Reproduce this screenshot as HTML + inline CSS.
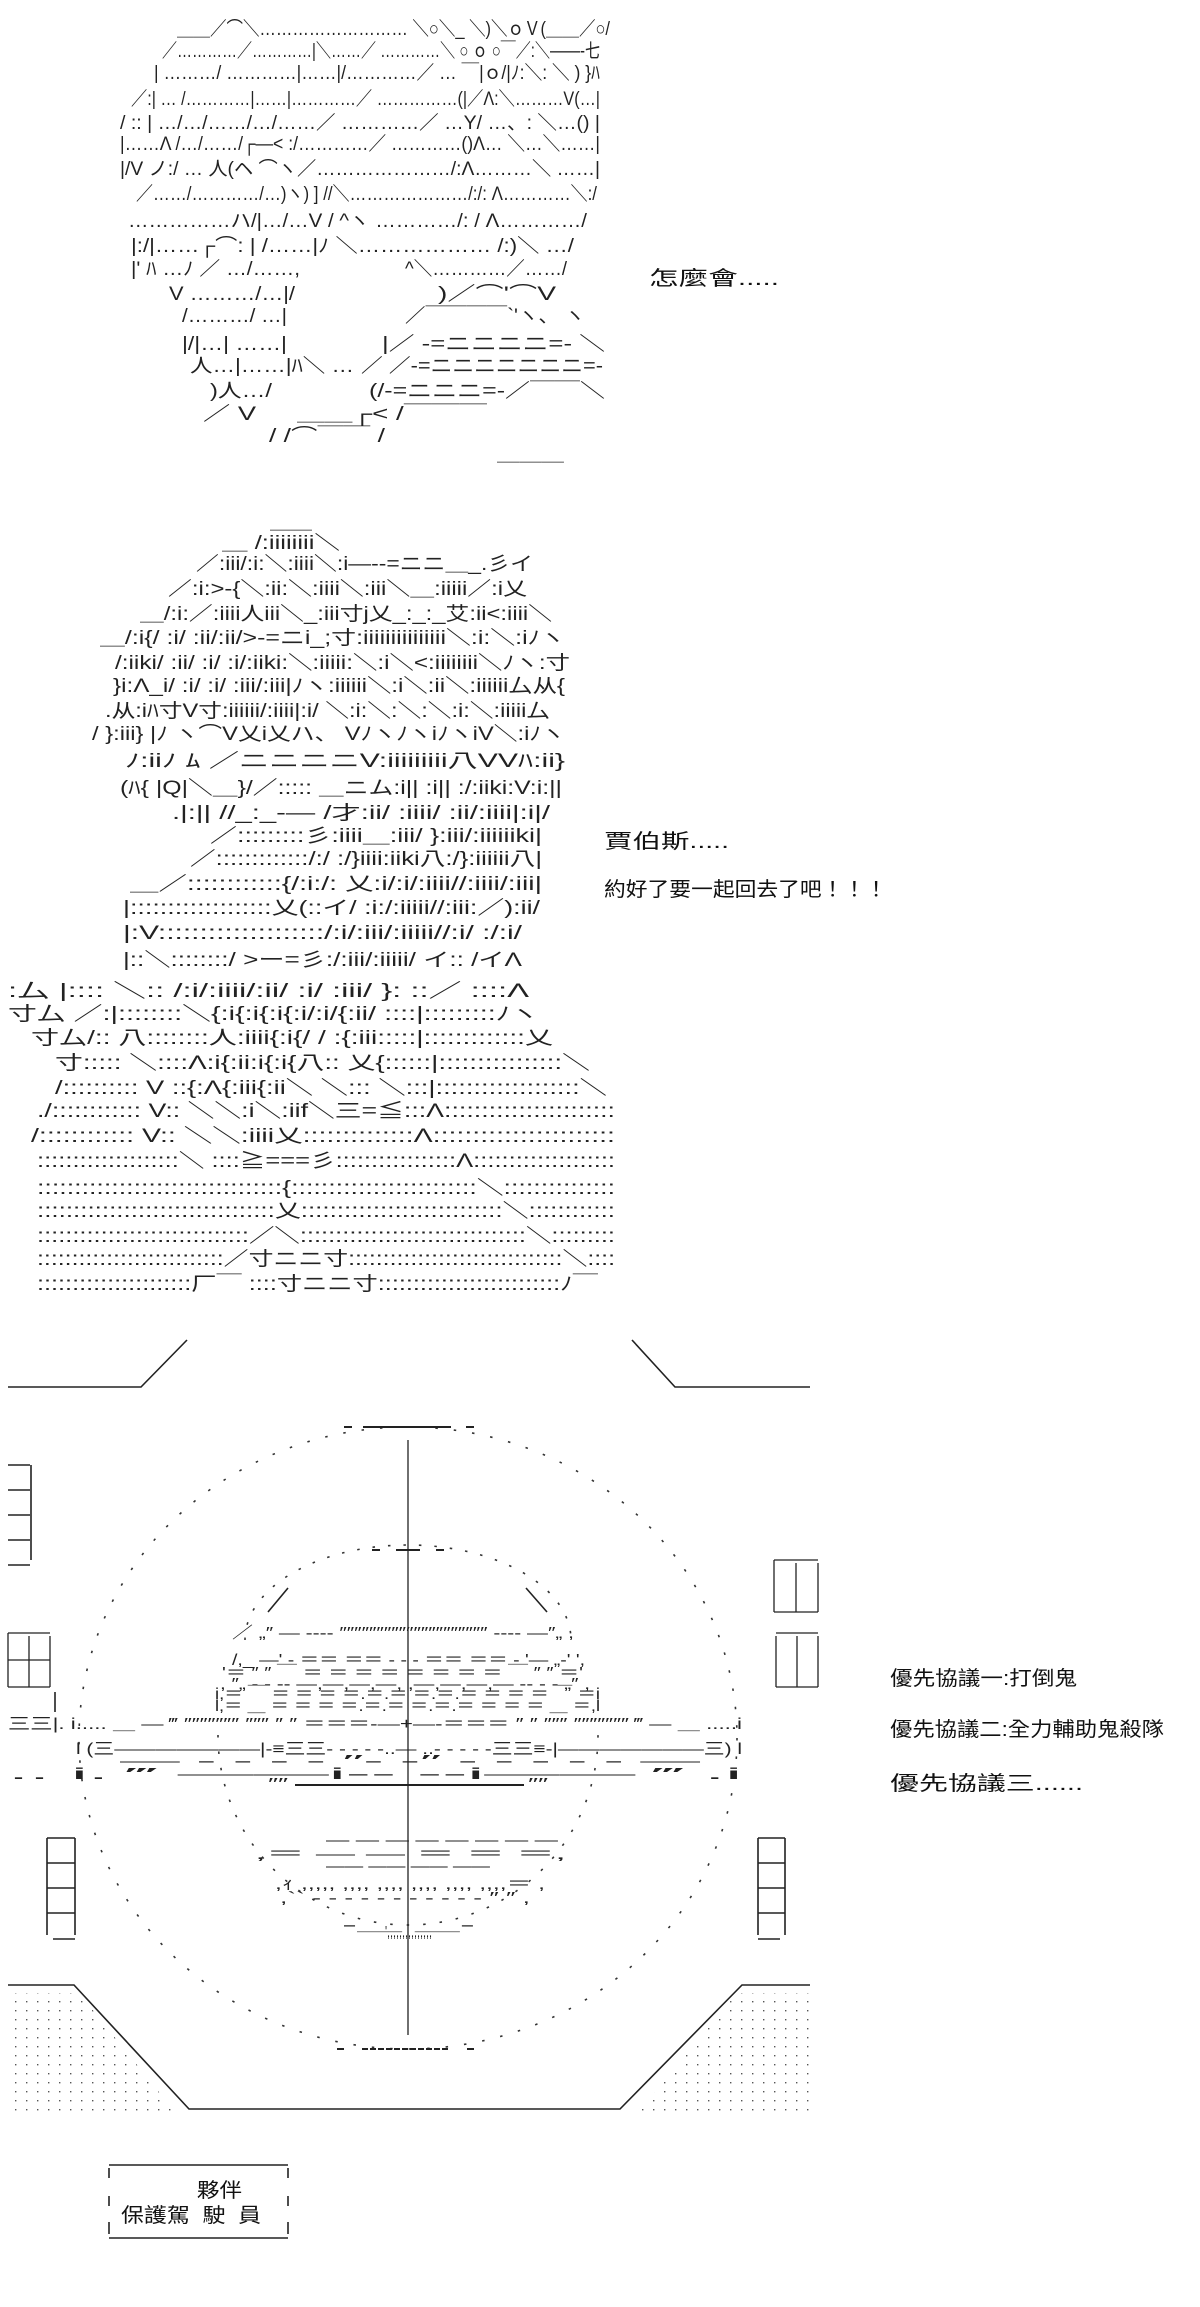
<!DOCTYPE html>
<html><head><meta charset="utf-8"><style>
html,body{margin:0;padding:0;background:#fff;}
svg{display:block}
.a{font-family:"Liberation Sans","Noto Sans CJK JP",sans-serif;font-size:19px;fill:#222;white-space:pre}
.c{font-family:"Liberation Sans","Noto Sans CJK TC",sans-serif;font-size:20px;fill:#111;white-space:pre}
.s{font-family:"Liberation Sans","Noto Sans CJK JP",sans-serif;font-size:16px;fill:#222;white-space:pre}
</style></head><body>
<svg width="1200" height="2307" viewBox="0 0 1200 2307" xmlns="http://www.w3.org/2000/svg">
<defs>
<pattern id="dp" x="0" y="0" width="11" height="9" patternUnits="userSpaceOnUse"><rect x="4" y="3" width="1.4" height="1.4" fill="#555"/></pattern>
</defs>
<g class="a" lengthAdjust="spacingAndGlyphs">
<text x="177" y="35" textLength="433" lengthAdjust="spacingAndGlyphs">＿＿／⌒＼……………………… ＼○＼_ ＼)＼ｏＶ(＿＿／○/</text>
<text x="162" y="57" textLength="438" lengthAdjust="spacingAndGlyphs">／…………／…………|＼……／ …………＼ ○ ｏ ○￣／:＼――-七</text>
<text x="154" y="79" textLength="446" lengthAdjust="spacingAndGlyphs">| ………/ …………|……|/…………／ … ￣|ｏ/|ﾉ:＼: ＼ ) }ﾊ</text>
<text x="131" y="105" textLength="469" lengthAdjust="spacingAndGlyphs">／:| …  /…………|……|…………／ ……………(|／Λ:＼………V(…|</text>
<text x="120" y="129" textLength="480" lengthAdjust="spacingAndGlyphs">/ :: | …/…/……/…/……／ …………／ …Y/ …、: ＼…() |</text>
<text x="120" y="150" textLength="480" lengthAdjust="spacingAndGlyphs">|……Λ /…/……/┌―&lt; :/…………／ …………()Λ… ＼…＼……|</text>
<text x="120" y="175" textLength="480" lengthAdjust="spacingAndGlyphs">|/V ノ:/ … 人(ヘ ⌒ヽ／…………………/:Λ………＼ ……|</text>
<text x="136" y="200" textLength="461" lengthAdjust="spacingAndGlyphs">／……/…………/…)ヽ) ] //＼…………………/:/: Λ…………＼:/</text>
<text x="128" y="227" textLength="459" lengthAdjust="spacingAndGlyphs">……………ハ/|…/…V  /   ^ヽ  …………/: / Λ…………/</text>
<text x="131" y="252" textLength="443" lengthAdjust="spacingAndGlyphs">|:/|……┌⌒: | /……|ﾉ      ＼………………  /:)＼ …/</text>
<text x="131" y="275" textLength="169" lengthAdjust="spacingAndGlyphs">|' ﾊ …ﾉ ／ …/……,</text>
<text x="405" y="275" textLength="162" lengthAdjust="spacingAndGlyphs">^＼…………／……/</text>
<text x="169" y="300" textLength="126" lengthAdjust="spacingAndGlyphs">V ………/…|/</text>
<text x="438" y="300" textLength="118" lengthAdjust="spacingAndGlyphs">)／⌒'⌒V</text>
<text x="182" y="322" textLength="105" lengthAdjust="spacingAndGlyphs">/………/ …|</text>
<text x="405" y="322" textLength="180" lengthAdjust="spacingAndGlyphs">／￣￣￣￣`'ヽ、 ヽ</text>
<text x="182" y="350" textLength="105" lengthAdjust="spacingAndGlyphs">|/|…| ……|</text>
<text x="382" y="350" textLength="223" lengthAdjust="spacingAndGlyphs">|／  -=ニニニニ=-   ＼</text>
<text x="190" y="372" textLength="164" lengthAdjust="spacingAndGlyphs">人…|……|ﾊ＼     …</text>
<text x="361" y="372" textLength="242" lengthAdjust="spacingAndGlyphs">／ ／-=ニニニニニニニ=-</text>
<text x="210" y="397" textLength="62" lengthAdjust="spacingAndGlyphs">)人…/</text>
<text x="369" y="397" textLength="236" lengthAdjust="spacingAndGlyphs">(/-=ニニニ=-／￣￣＼</text>
<text x="203" y="420" textLength="53" lengthAdjust="spacingAndGlyphs">／  V</text>
<text x="297" y="420" textLength="190" lengthAdjust="spacingAndGlyphs">＿＿┌&lt; /￣￣￣</text>
<text x="269" y="442" textLength="116" lengthAdjust="spacingAndGlyphs">/ /⌒￣￣  /</text>
<text x="497" y="460" textLength="67" lengthAdjust="spacingAndGlyphs">＿＿＿</text>

<text x="270" y="528" textLength="42" lengthAdjust="spacingAndGlyphs">＿＿</text>
<text x="222" y="549" textLength="118" lengthAdjust="spacingAndGlyphs">＿ /:iiiiiiii＼</text>
<text x="196" y="570" textLength="337" lengthAdjust="spacingAndGlyphs">／:iii/:i:＼:iiii＼:i―--=ニニ＿_.彡イ</text>
<text x="168" y="595" textLength="359" lengthAdjust="spacingAndGlyphs">／:i:&gt;-{＼:ii:＼:iiii＼:iii＼＿:iiiii／:i乂</text>
<text x="140" y="620" textLength="412" lengthAdjust="spacingAndGlyphs">＿/:i:／:iiii人iii＼_:iii寸j乂_:_:_艾:ii&lt;:iiii＼</text>
<text x="100" y="644" textLength="465" lengthAdjust="spacingAndGlyphs">＿/:i{/ :i/ :ii/:ii/&gt;-=ニi_;寸:iiiiiiiiiiiiiii＼:i:＼:iﾉヽ</text>
<text x="115" y="669" textLength="455" lengthAdjust="spacingAndGlyphs">/:iiki/ :ii/ :i/ :i/:iiki:＼:iiiii:＼:i＼&lt;:iiiiiiii＼ﾉヽ:寸</text>
<text x="113" y="692" textLength="452" lengthAdjust="spacingAndGlyphs">}i:Λ_i/ :i/ :i/ :iii/:iii|ﾉヽ:iiiiii＼:i＼:ii＼:iiiiii厶从{</text>
<text x="105" y="717" textLength="445" lengthAdjust="spacingAndGlyphs">.从:iﾊ寸V寸:iiiiii/:iiii|:i/  ＼:i:＼:＼:＼:i:＼:iiiii厶</text>
<text x="92" y="740" textLength="473" lengthAdjust="spacingAndGlyphs">/   }:iii} |ﾉ    ヽ⌒V乂i乂ハ、     VﾉヽﾉヽiﾉヽiV＼:iﾉヽ</text>
<text x="125" y="767" textLength="440" lengthAdjust="spacingAndGlyphs">ﾉ:iiﾉ  ﾑ          ／ニニニニV:iiiiiiiii八VVﾊ:ii}</text>
<text x="120" y="794" textLength="442" lengthAdjust="spacingAndGlyphs">(ﾊ{  |Q|＼＿}/／::::: ＿ニム:i|| :i|| :/:iiki:V:i:||</text>
<text x="172" y="819" textLength="378" lengthAdjust="spacingAndGlyphs">.|:||      //_:_-― /才:ii/ :iiii/ :ii/:iiii|:i|/</text>
<text x="210" y="842" textLength="332" lengthAdjust="spacingAndGlyphs">／:::::::::彡:iiii＿:iii/ }:iii/:iiiiiiki|</text>
<text x="190" y="865" textLength="352" lengthAdjust="spacingAndGlyphs">／:::::::::::::/:/ :/}iiii:iiki八:/}:iiiiii八|</text>
<text x="130" y="890" textLength="412" lengthAdjust="spacingAndGlyphs">＿／::::::::::::{/:i:/: 乂:i/:i/:iiii//:iiii/:iii|</text>
<text x="123" y="914" textLength="417" lengthAdjust="spacingAndGlyphs">|:::::::::::::::::::乂(::イ/ :i:/:iiiii//:iii:／):ii/</text>
<text x="123" y="939" textLength="399" lengthAdjust="spacingAndGlyphs">|:V::::::::::::::::::::/:i/:iii/:iiiii//:i/ :/:i/</text>
<text x="123" y="966" textLength="399" lengthAdjust="spacingAndGlyphs">|::＼::::::::/ &gt;ー=彡:/:iii/:iiiii/ イ:: /イΛ</text>
<text x="8" y="997" textLength="521" lengthAdjust="spacingAndGlyphs">:厶          |::::  ＼:: /:i/:iiii/:ii/ :i/ :iii/ }: ::／ ::::Λ</text>
<text x="8" y="1020" textLength="531" lengthAdjust="spacingAndGlyphs">寸厶     ／:|::::::::＼{:i{:i{:i{:i/:i/{:ii/ ::::|:::::::::ﾉヽ</text>
<text x="31" y="1044" textLength="522" lengthAdjust="spacingAndGlyphs">寸厶/:: 八::::::::人:iiii{:i{/ / :{:iii:::::|:::::::::::::乂</text>
<text x="55" y="1069" textLength="535" lengthAdjust="spacingAndGlyphs">寸:::::  ＼::::Λ:i{:ii:i{:i{八:: 乂{::::::|::::::::::::::::＼</text>
<text x="55" y="1094" textLength="552" lengthAdjust="spacingAndGlyphs">/:::::::::: V ::{:Λ{:iii{:ii＼ ＼::: ＼:::|:::::::::::::::::::＼</text>
<text x="37" y="1117" textLength="578" lengthAdjust="spacingAndGlyphs">./:::::::::::: V:: ＼＼:i＼:iif＼三=≦:::Λ:::::::::::::::::::::::</text>
<text x="31" y="1142" textLength="584" lengthAdjust="spacingAndGlyphs">/:::::::::::: V:: ＼＼:iiii乂::::::::::::::Λ:::::::::::::::::::::::</text>
<text x="37" y="1167" textLength="578" lengthAdjust="spacingAndGlyphs">::::::::::::::::::::＼ ::::≧===彡:::::::::::::::::Λ::::::::::::::::::::</text>
<text x="37" y="1194" textLength="578" lengthAdjust="spacingAndGlyphs">:::::::::::::::::::::::::::::::::{:::::::::::::::::::::::::＼:::::::::::::::</text>
<text x="37" y="1217" textLength="578" lengthAdjust="spacingAndGlyphs">:::::::::::::::::::::::::::::::::乂::::::::::::::::::::::::::::＼::::::::::::</text>
<text x="37" y="1242" textLength="578" lengthAdjust="spacingAndGlyphs">::::::::::::::::::::::::::::::／＼::::::::::::::::::::::::::::::::＼:::::::::</text>
<text x="37" y="1265" textLength="578" lengthAdjust="spacingAndGlyphs">:::::::::::::::::::::::::::／寸ニニ寸:::::::::::::::::::::::::::::::＼::::</text>
<text x="37" y="1290" textLength="561" lengthAdjust="spacingAndGlyphs">::::::::::::::::::::::厂￣  ::::寸ニニ寸::::::::::::::::::::::::::ﾉ￣</text>
</g>

<text class="c" x="649" y="285" textLength="130" lengthAdjust="spacingAndGlyphs">怎麼會.....</text>
<text class="c" x="604" y="848" textLength="125" lengthAdjust="spacingAndGlyphs">賈伯斯.....</text>
<text class="c" x="604" y="896" textLength="283" lengthAdjust="spacingAndGlyphs">約好了要一起回去了吧！！！</text>
<text class="c" x="890" y="1685" textLength="187" lengthAdjust="spacingAndGlyphs">優先協議一:打倒鬼</text>
<text class="c" x="890" y="1736" textLength="274" lengthAdjust="spacingAndGlyphs">優先協議二:全力輔助鬼殺隊</text>
<text class="c" x="890" y="1790" textLength="193" lengthAdjust="spacingAndGlyphs">優先協議三......</text>

<g stroke="#222" stroke-width="1.6" fill="none">
<polyline points="8,1387 141,1387 187,1340"/>
<polyline points="632,1340 675,1387 810,1387"/>
<polyline points="8,1985 74,1985 189,2109 620,2109 742,1985 810,1985"/>
<ellipse cx="408" cy="1738" rx="329" ry="311" stroke-dasharray="2.5 16" stroke-width="1.6" stroke="#333"/>
<path d="M 245 1640 A 163 95 0 0 1 571 1640" stroke-dasharray="2.5 13" stroke="#333"/>
<path d="M 218 1735 A 190 190 0 0 0 598 1735" stroke-dasharray="2.5 14" stroke="#333"/>
<line x1="268" y1="1612" x2="288" y2="1588"/>
<line x1="526" y1="1588" x2="547" y2="1612"/>
<line x1="408" y1="1440" x2="408" y2="2035" stroke-width="1.3"/>
<line x1="344" y1="1427" x2="352" y2="1427" stroke-width="2"/>
<line x1="363" y1="1427" x2="451" y2="1427" stroke-width="2"/>
<line x1="466" y1="1427" x2="474" y2="1427" stroke-width="2"/>
<line x1="372" y1="1550" x2="380" y2="1550" stroke-width="2"/>
<line x1="396" y1="1550" x2="420" y2="1550" stroke-width="2"/>
<line x1="436" y1="1550" x2="444" y2="1550" stroke-width="2"/>
<line x1="337" y1="2049" x2="344" y2="2049" stroke-width="2"/>
<line x1="362" y1="2049" x2="450" y2="2049" stroke-width="2" stroke-dasharray="6 2"/>
<line x1="467" y1="2049" x2="474" y2="2049" stroke-width="2"/>
<line x1="295" y1="1785" x2="524" y2="1785" stroke-width="2"/>
<path d="M8 1465H30M8 1490H30M8 1515H30M8 1540H30M8 1565H30M31 1465V1560"/>
<path d="M8 1633H50M8 1633V1687M29 1636V1687M50 1636V1687M8 1660H50M8 1687H50" stroke-width="1.3"/>
<path d="M55 1692V1712"/>
<path d="M774 1560H818M774 1560V1612M796 1563V1612M818 1563V1612M774 1612H818" stroke-width="1.3"/>
<path d="M776 1633H818M776 1636V1687M797 1636V1687M818 1636V1687M776 1687H818" stroke-width="1.3"/>
<path d="M47 1838H75M47 1863H75M47 1888H75M47 1913H75M53 1939H75M47 1838V1935M75 1838V1935"/>
<path d="M758 1838H785M758 1863H785M758 1888H785M758 1913H785M758 1939H780M758 1838V1935M785 1838V1935"/>
<path d="M109 2165H288M109 2168V2178M109 2196V2206M109 2222V2234M288 2168V2178M288 2196V2206M288 2222V2234M109 2238H288"/>
</g>

<polygon points="8,1993 79,1993 175,2112 8,2112" fill="url(#dp)"/>
<polygon points="737,1993 810,1993 810,2112 638,2112" fill="url(#dp)"/>

<g class="s">
<text x="232" y="1638" textLength="342" lengthAdjust="spacingAndGlyphs">／ „″ ―  ----  ″″″″″″″″″″″″″″″″″″″″  ----  ―″„  ,</text>
<text x="232" y="1665" textLength="353" lengthAdjust="spacingAndGlyphs">/,_    ―'  -  ＝＝  ＝＝  -  -  -  ＝＝  ＝＝  -  '―   „-'  ',</text>
<text x="222" y="1678" textLength="361" lengthAdjust="spacingAndGlyphs">'＝ ″ ″  ￣   ＝  ＝  ＝  ＝     ＝  ＝  ＝  ＝   ￣   ″ ″ ＝'</text>
<text x="220" y="1689" textLength="370" lengthAdjust="spacingAndGlyphs">, ″„ -  -   --  ―,―,―,―,   ,―,―,―,―   --   -  - „″ ,</text>
<text x="215" y="1699" textLength="385" lengthAdjust="spacingAndGlyphs">i,＝ ￣  ＝  ＝  ＝  ＝.＝.＝    ＝.＝.＝  ＝  ＝  ＝  ￣ ＝i</text>
<text x="215" y="1711" textLength="385" lengthAdjust="spacingAndGlyphs">l,＝ ＿  ＝  ＝  ＝  ＝.＝.＝    ＝.＝.＝  ＝  ＝  ＝  ＿ ＝,l</text>
<text x="8" y="1729" textLength="734" lengthAdjust="spacingAndGlyphs">三三|.   i.....    ＿ ―  ‴ ″″″″″″″ ″″″ ″ ″  ＝＝＝-―+―-＝＝＝  ″ ″ ″″″ ″″″″″″″  ‴ ―  ＿    .....i</text>
<text x="76" y="1754" textLength="666" lengthAdjust="spacingAndGlyphs">l (三―――――――|-≡三三- - - - -..―  ..- - - - -三三≡-|―――――――三) l</text>
<text x="120" y="1766" textLength="580" lengthAdjust="spacingAndGlyphs">―                       - - - - ″-     -″ - - - - -                      ―</text>
<text x="8" y="1779" textLength="734" lengthAdjust="spacingAndGlyphs">..          i.        ‴ ――i--                                            --i―― ‴          .i</text>
<text x="268" y="1789" textLength="20" lengthAdjust="spacingAndGlyphs">″″</text>
<text x="528" y="1789" textLength="20" lengthAdjust="spacingAndGlyphs">″″</text>
<text x="326" y="1845" textLength="232" lengthAdjust="spacingAndGlyphs">―  ―  ―  ―  ―  ―  ―  ―</text>
<text x="255" y="1859" textLength="311" lengthAdjust="spacingAndGlyphs">,＝ ―  ―                                ＝  ＝  ＝,</text>
<text x="326" y="1871" textLength="164" lengthAdjust="spacingAndGlyphs">――    ――       ――    ――</text>
<text x="275" y="1889" textLength="270" lengthAdjust="spacingAndGlyphs">,ｨ   ,,,,,   ,,,,   ,,,, ,,,,   ,,,,   ,,,,＝ ,</text>
<text x="280" y="1903" textLength="250" lengthAdjust="spacingAndGlyphs">,`` - - - - - -    - - - - - ″ ″ ,</text>
<text x="342" y="1930" textLength="133" lengthAdjust="spacingAndGlyphs">-＿                     ＿-</text>
<text x="385" y="1937" textLength="47" lengthAdjust="spacingAndGlyphs">',,,,,,,,,,,,,,,</text>
</g>

<text class="c" x="197" y="2197" textLength="45" lengthAdjust="spacingAndGlyphs">夥伴</text>
<text class="c" x="121" y="2222" textLength="140" lengthAdjust="spacingAndGlyphs">保護駕  駛  員</text>
</svg>
</body></html>
